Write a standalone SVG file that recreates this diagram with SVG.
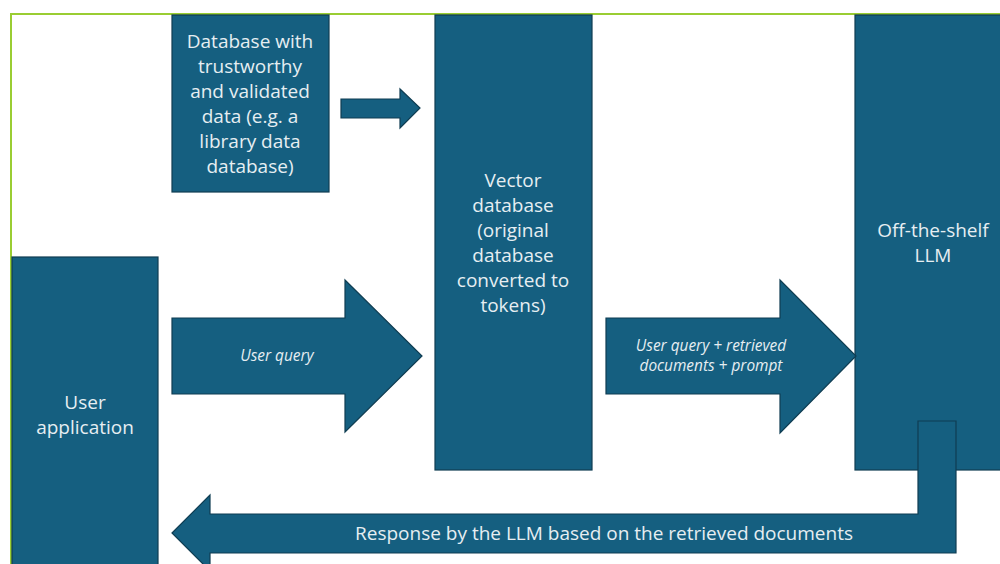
<svg xmlns="http://www.w3.org/2000/svg" width="1000" height="564" viewBox="0 0 1000 564">
<style>
.box{fill:#155F80;stroke:#0F3D52;stroke-width:1.2}
.t{font-family:"Open Sans","Liberation Sans",sans-serif;font-size:19px;fill:#E6EEF2;text-anchor:middle}
.ti{font-family:"Open Sans","Liberation Sans",sans-serif;font-size:15.4px;font-style:italic;fill:#E6EEF2;text-anchor:middle}
</style>
<rect x="0" y="0" width="1000" height="564" fill="#fff"/>
<rect x="11" y="14" width="1010" height="600" fill="none" stroke="#9ACD32" stroke-width="2"/>
<g id="database">
<rect class="box" x="172" y="15" width="157" height="177"/>
<text class="t" x="250" y="48">Database with</text>
<text class="t" x="250" y="73">trustworthy</text>
<text class="t" x="250" y="98">and validated</text>
<text class="t" x="250" y="123">data (e.g. a</text>
<text class="t" x="250" y="148">library data</text>
<text class="t" x="250" y="173">database)</text>
</g>
<g id="vector-db">
<rect class="box" x="435" y="15" width="157" height="455"/>
<text class="t" x="513" y="187">Vector</text>
<text class="t" x="513" y="212">database</text>
<text class="t" x="513" y="237">(original</text>
<text class="t" x="513" y="262">database</text>
<text class="t" x="513" y="287">converted to</text>
<text class="t" x="513" y="312">tokens)</text>
</g>
<g id="llm">
<rect class="box" x="855" y="15" width="160" height="455"/>
<text class="t" x="933" y="237">Off-the-shelf</text>
<text class="t" x="933" y="262">LLM</text>
</g>
<g id="user-app">
<rect class="box" x="12" y="257" width="146" height="320"/>
<text class="t" x="85" y="409">User</text>
<text class="t" x="85" y="434">application</text>
</g>
<g id="connectors">
<polygon class="box" points="341,99 400,99 400,89 420,108 400,128 400,118 341,118"/>
<polygon class="box" points="172,318 345,318 345,280 422,356 345,432 345,394 172,394"/>
<text class="ti" x="277" y="361">User query</text>
<polygon class="box" points="606,318 780,318 780,280 856,356 780,433 780,394 606,394"/>
<text class="ti" x="711" y="351">User query + retrieved</text>
<text class="ti" x="711" y="371">documents + prompt</text>
<polygon class="box" points="172,533 210,495 210,514 918,514 918,421 956,421 956,553 210,553 210,571"/>
<text class="t" x="604" y="540">Response by the LLM based on the retrieved documents</text>
</g>
</svg>
